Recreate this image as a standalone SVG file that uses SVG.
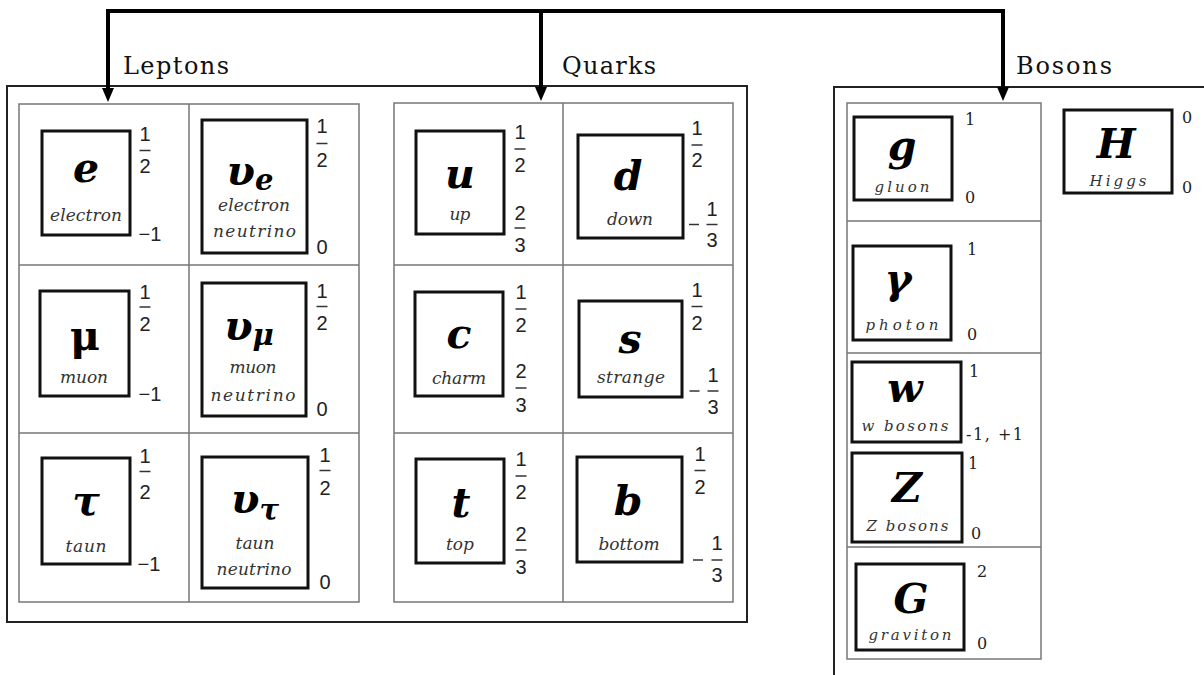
<svg xmlns="http://www.w3.org/2000/svg" width="1204" height="675" viewBox="0 0 1204 675">
<style>
.sym{font-family:"DejaVu Serif",serif;font-weight:bold;font-style:italic;font-size:41px;text-anchor:middle;fill:#000}
.up{font-style:normal}
.lbl{font-family:"DejaVu Serif",serif;font-style:italic;font-size:17px;fill:#333;text-anchor:middle}
.blbl{font-family:"DejaVu Serif",serif;font-style:italic;font-size:15px;fill:#333;text-anchor:middle}
.num{font-family:"Liberation Sans",sans-serif;font-size:20px;fill:#222;text-anchor:middle}
.bnum{font-family:"DejaVu Serif",serif;font-size:16px;fill:#222;text-anchor:middle}
.box{fill:#fff;stroke:#111;stroke-width:3}
.grid{fill:none;stroke:#777;stroke-width:1.5}
.frame{fill:none;stroke:#222;stroke-width:2}
.bar{stroke:#333;stroke-width:1.5}
.title{font-family:"DejaVu Serif",serif;font-size:24px;fill:#111}
.conn{fill:none;stroke:#000;stroke-width:4;stroke-linejoin:miter}
</style>
<defs>
<marker id="arr" markerUnits="userSpaceOnUse" markerWidth="14" markerHeight="12" refX="0" refY="6" orient="auto">
<path d="M0,0 L14,6 L0,12 z" fill="#000"/>
</marker>
</defs>
<rect width="1204" height="675" fill="#fff"/>

<g id="frames">
<rect class="frame" x="7" y="86" width="740" height="536"/>
<path class="frame" d="M1210,87 L834,87 L834,680"/>
</g>

<g id="tables">
<rect class="grid" x="19" y="104" width="340" height="498"/>
<path class="grid" d="M189,104 V602 M19,265 H359 M19,433 H359"/>
<rect class="grid" x="394" y="103" width="339" height="499"/>
<path class="grid" d="M563,103 V602 M394,265 H733 M394,433 H733"/>
<rect class="grid" x="847" y="103" width="194" height="556"/>
<path class="grid" d="M847,221 H1041 M847,353 H1041 M847,547 H1041"/>
</g>

<g id="connectors">
<path class="conn" d="M541,11 L108,11 L108,88" marker-end="url(#arr)"/>
<path class="conn" d="M541,11 L541,87" marker-end="url(#arr)"/>
<path class="conn" d="M541,11 L1003,11 L1003,87" marker-end="url(#arr)"/>
</g>

<g id="titles">
<text class="title" x="123" y="74" textLength="106">Leptons</text>
<text class="title" x="562" y="74" textLength="94">Quarks</text>
<text class="title" x="1016" y="74" textLength="96">Bosons</text>
</g>

<g id="electron">
<rect class="box" x="42" y="131" width="88" height="104"/>
<text class="sym" x="86" y="182">e</text>
<text class="lbl" x="86" y="221" textLength="72">electron</text>
<text class="num" x="145" y="141">1</text><line class="bar" x1="139.5" y1="150.5" x2="150.5" y2="150.5"/><text class="num" x="145" y="173">2</text>
<text class="num" x="150" y="241">−1</text>
</g>

<g id="electron-neutrino">
<rect class="box" x="202" y="120" width="105" height="133"/>
<text class="sym" x="250" y="185">υ<tspan font-size="29" dy="5">e</tspan></text>
<text class="lbl" x="254" y="211" textLength="72">electron</text>
<text class="lbl" x="254.5" y="237" textLength="83">neutrino</text>
<text class="num" x="322" y="133">1</text><line class="bar" x1="316.5" y1="143.5" x2="327.5" y2="143.5"/><text class="num" x="322" y="167">2</text>
<text class="num" x="322" y="254">0</text>
</g>

<g id="muon">
<rect class="box" x="40" y="291" width="89" height="105"/>
<text class="sym up" x="85" y="350">μ</text>
<text class="lbl" x="84" y="383" textLength="48">muon</text>
<text class="num" x="145" y="299">1</text><line class="bar" x1="139.5" y1="307" x2="150.5" y2="307"/><text class="num" x="145" y="331">2</text>
<text class="num" x="150" y="401">−1</text>
</g>

<g id="muon-neutrino">
<rect class="box" x="202" y="283" width="104" height="133"/>
<text class="sym" x="249" y="340">υ<tspan font-size="29" dy="5">μ</tspan></text>
<text class="lbl" x="253" y="373" textLength="47">muon</text>
<text class="lbl" x="253" y="401" textLength="85">neutrino</text>
<text class="num" x="322" y="298">1</text><line class="bar" x1="316.5" y1="306.5" x2="327.5" y2="306.5"/><text class="num" x="322" y="330">2</text>
<text class="num" x="322" y="416">0</text>
</g>

<g id="tau">
<rect class="box" x="42" y="458" width="88" height="106"/>
<text class="sym" x="86" y="515">τ</text>
<text class="lbl" x="86" y="552" textLength="41">taun</text>
<text class="num" x="145" y="463">1</text><line class="bar" x1="139.5" y1="471.5" x2="150.5" y2="471.5"/><text class="num" x="145" y="499">2</text>
<text class="num" x="149" y="571">−1</text>
</g>

<g id="tau-neutrino">
<rect class="box" x="202" y="457" width="106" height="131"/>
<text class="sym" x="255" y="513">υ<tspan font-size="29" dy="7">τ</tspan></text>
<text class="lbl" x="255" y="549" textLength="39">taun</text>
<text class="lbl" x="254" y="575" textLength="75">neutrino</text>
<text class="num" x="325" y="462">1</text><line class="bar" x1="319.5" y1="470.5" x2="330.5" y2="470.5"/><text class="num" x="325" y="495">2</text>
<text class="num" x="325" y="589">0</text>
</g>

<g id="up">
<rect class="box" x="416" y="131" width="88" height="103"/>
<text class="sym" x="460" y="188">u</text>
<text class="lbl" x="460" y="220" textLength="21">up</text>
<text class="num" x="520" y="139">1</text><line class="bar" x1="514.5" y1="149" x2="525.5" y2="149"/><text class="num" x="520" y="172">2</text>
<text class="num" x="520" y="220">2</text><line class="bar" x1="514.5" y1="228" x2="525.5" y2="228"/><text class="num" x="520" y="252">3</text>
</g>

<g id="down">
<rect class="box" x="578" y="135" width="105" height="103"/>
<text class="sym" x="628" y="190">d</text>
<text class="lbl" x="630" y="225" textLength="46">down</text>
<text class="num" x="697" y="135">1</text><line class="bar" x1="691.5" y1="145" x2="702.5" y2="145"/><text class="num" x="697" y="167">2</text>
<line class="bar" x1="689" y1="224.5" x2="699" y2="224.5"/>
<text class="num" x="712" y="216">1</text><line class="bar" x1="706.5" y1="224.5" x2="717.5" y2="224.5"/><text class="num" x="712" y="247">3</text>
</g>

<g id="charm">
<rect class="box" x="415" y="292" width="88" height="104"/>
<text class="sym" x="459" y="348">c</text>
<text class="lbl" x="459" y="384" textLength="54">charm</text>
<text class="num" x="521" y="299">1</text><line class="bar" x1="515.5" y1="309" x2="526.5" y2="309"/><text class="num" x="521" y="332">2</text>
<text class="num" x="521" y="378">2</text><line class="bar" x1="515.5" y1="388" x2="526.5" y2="388"/><text class="num" x="521" y="412">3</text>
</g>

<g id="strange">
<rect class="box" x="579" y="301" width="103" height="96"/>
<text class="sym" x="630" y="353">s</text>
<text class="lbl" x="631" y="383" textLength="68">strange</text>
<text class="num" x="697" y="297">1</text><line class="bar" x1="691.5" y1="306.5" x2="702.5" y2="306.5"/><text class="num" x="697" y="330">2</text>
<line class="bar" x1="689.5" y1="391" x2="699.5" y2="391"/>
<text class="num" x="713" y="382">1</text><line class="bar" x1="707.5" y1="391" x2="718.5" y2="391"/><text class="num" x="713" y="414">3</text>
</g>

<g id="top">
<rect class="box" x="416" y="459" width="88" height="104"/>
<text class="sym" x="461" y="517">t</text>
<text class="lbl" x="460" y="550" textLength="28">top</text>
<text class="num" x="521" y="466">1</text><line class="bar" x1="515.5" y1="476" x2="526.5" y2="476"/><text class="num" x="521" y="499">2</text>
<text class="num" x="521" y="541">2</text><line class="bar" x1="515.5" y1="550" x2="526.5" y2="550"/><text class="num" x="521" y="574">3</text>
</g>

<g id="bottom">
<rect class="box" x="577" y="457" width="105" height="105"/>
<text class="sym" x="628" y="515">b</text>
<text class="lbl" x="629" y="550" textLength="61">bottom</text>
<text class="num" x="700" y="461">1</text><line class="bar" x1="694.5" y1="470.5" x2="705.5" y2="470.5"/><text class="num" x="700" y="494">2</text>
<line class="bar" x1="693" y1="560" x2="703" y2="560"/>
<text class="num" x="717" y="550">1</text><line class="bar" x1="711.5" y1="560" x2="722.5" y2="560"/><text class="num" x="717" y="582">3</text>
</g>

<g id="gluon">
<rect class="box" x="854" y="117" width="98" height="83"/>
<text class="sym" x="902" y="160">g</text>
<text class="blbl" x="902" y="192" textLength="55">gluon</text>
<text class="bnum" x="970" y="125">1</text>
<text class="bnum" x="970" y="203">0</text>
</g>

<g id="higgs">
<rect class="box" x="1064" y="110" width="108" height="83"/>
<text class="sym" x="1116" y="158">H</text>
<text class="blbl" x="1118" y="186" textLength="57">Higgs</text>
<text class="bnum" x="1187" y="123">0</text>
<text class="bnum" x="1187" y="193">0</text>
</g>

<g id="photon">
<rect class="box" x="853" y="246" width="98" height="94"/>
<text class="sym" x="898" y="293">γ</text>
<text class="blbl" x="902" y="330" textLength="73">photon</text>
<text class="bnum" x="972" y="255">1</text>
<text class="bnum" x="972" y="340">0</text>
</g>

<g id="w-bosons">
<rect class="box" x="852" y="362" width="109" height="80"/>
<text class="sym" x="905" y="402">w</text>
<text class="blbl" x="905" y="431" textLength="87">w bosons</text>
<text class="bnum" x="974" y="377">1</text>
<text class="bnum" x="966" y="440" style="text-anchor:start" textLength="57">-1, +1</text>
</g>

<g id="z-bosons">
<rect class="box" x="852" y="453" width="110" height="89"/>
<text class="sym" x="907" y="502">Z</text>
<text class="blbl" x="907.5" y="531" textLength="82">Z bosons</text>
<text class="bnum" x="973" y="469">1</text>
<text class="bnum" x="976" y="539">0</text>
</g>

<g id="graviton">
<rect class="box" x="856" y="564" width="108" height="86"/>
<text class="sym" x="911" y="613">G</text>
<text class="blbl" x="910" y="640" textLength="83">graviton</text>
<text class="bnum" x="982" y="577">2</text>
<text class="bnum" x="982" y="649">0</text>
</g>
</svg>
